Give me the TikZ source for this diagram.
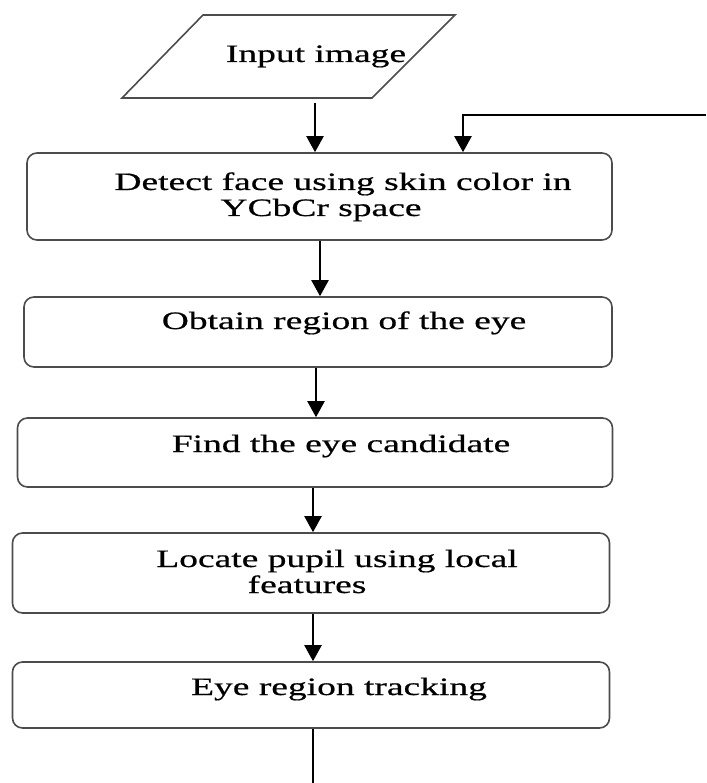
\documentclass[tikz,border=0pt]{standalone}
\usepackage{fontspec}
\setmainfont[FakeStretch=1.5,FakeBold=0.6]{Liberation Serif}
\usetikzlibrary{arrows.meta}
\definecolor{boxgray}{gray}{0.3}
\begin{document}
\begin{tikzpicture}[x=1pt,y=-1pt,
  box/.style={draw=boxgray, line width=1.6pt, rounded corners=10pt, inner sep=0pt},
  lbl/.style={anchor=base, inner sep=0pt, font=\fontsize{25}{26}\selectfont},
  arr/.style={line width=2.2pt, -{Triangle[width=17pt,length=16pt]}}]
\useasboundingbox (0,0) rectangle (706,783);
% input parallelogram
\draw[draw=boxgray, line width=1.6pt] (122,98) -- (203,15) -- (455,15) -- (372,98) -- cycle;
\node[lbl] (input) at (316,62) {Input image};
\coordinate (inb) at (315,103);
\coordinate (fb) at (706,115);
\coordinate (fbx) at (463,153);
% boxes
\node[box, minimum width=585pt, minimum height=87pt] (det) at (319.5,196.5) {};
\node[lbl] (det1) at (343,190) {Detect face using skin color in};
\node[lbl] (det2) at (321,216) {YCbCr space};
\node[box, minimum width=588pt, minimum height=70pt] (obt) at (318,332) {};
\node[lbl] (obtt) at (344,329) {Obtain region of the eye};
\node[box, minimum width=595pt, minimum height=69pt] (fnd) at (315,452.5) {};
\node[lbl] (fndt) at (341,452) {Find the eye candidate};
\node[box, minimum width=597pt, minimum height=80pt] (loc) at (311,573) {};
\node[lbl] (loc1) at (337,567) {Locate pupil using local};
\node[lbl] (loc2) at (307,593) {features};
\node[box, minimum width=597pt, minimum height=66pt] (eye) at (311,695) {};
\node[lbl] (eyet) at (339,695) {Eye region tracking};
\coordinate (bot) at (313,783);
% connectors
\draw[arr] (inb) -- (inb |- det.north);
\draw[arr] (fb) -| (fbx |- det.north);
\draw[arr] (det.south -| 320,0) -- (obt.north -| 320,0);
\draw[arr] (obt.south -| 316,0) -- (fnd.north -| 316,0);
\draw[arr] (fnd.south -| 313,0) -- (loc.north -| 313,0);
\draw[arr] (loc.south -| 313,0) -- (eye.north -| 313,0);
\draw[line width=2.2pt] (eye.south -| bot) -- (bot);
\end{tikzpicture}
\end{document}
